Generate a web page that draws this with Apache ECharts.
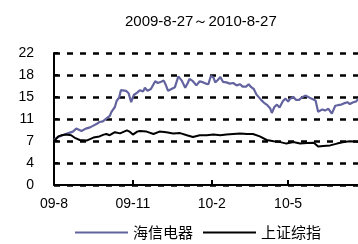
<!DOCTYPE html>
<html>
<head>
<meta charset="utf-8">
<script src="https://cdn.jsdelivr.net/npm/echarts@6/dist/echarts.min.js"></script>
<style>
html,body{margin:0;padding:0;overflow:hidden;background:#fff;width:358px;height:244px;}
#c{width:367px;height:244px;}
</style>
</head>
<body>
<div id="c"></div>
<script>
// x values are days since 2009-08-27 (axis runs to 2010-08-27 = day 365)
const totalDays = 365;
const seriesNames = ['海信电器', '上证综指'];
const titleText = '2009-8-27～2010-8-27';
const tickDays = [0, 92, 184, 273];
const tickLabels = ['09-8', '09-11', '10-2', '10-5'];
const yTicks = [0, 4, 7, 11, 15, 18, 22];

const hxDay = [0,5,10,16,22,26,32,37,42,46,50,53,57,62,65,67,71,73,76,78,80,84,87,90,93,97,100,104,106,109,113,118,121,125,128,130,133,137,141,145,149,153,156,158,162,166,170,174,177,180,183,186,188,191,194,197,201,205,209,213,217,220,224,227,230,233,236,239,242,245,248,252,254,257,260,263,265,267,270,273,275,279,282,286,289,293,296,300,305,308,313,316,320,324,328,331,335,338,342,345,349,352,355,359,364];
const hxVal = [7.5,8.0,8.3,8.6,8.9,9.4,9.0,9.4,9.6,9.9,10.2,10.5,10.6,11.2,11.5,12.2,13.0,14.0,14.6,15.8,15.6,15.7,15.3,13.8,15.0,15.4,15.8,15.6,16.2,15.7,16.0,17.3,17.0,17.2,17.4,16.8,15.7,16.0,16.3,18.1,17.4,16.2,17.0,17.7,17.3,16.6,17.3,17.1,16.9,16.8,18.2,17.9,17.1,17.5,18.0,17.2,17.1,16.9,17.0,16.6,16.8,16.4,16.4,16.8,16.3,16.0,15.1,14.6,14.1,13.7,13.4,12.8,12.0,13.0,13.4,12.9,13.0,14.0,14.4,13.9,14.3,14.7,14.2,14.2,14.6,14.9,14.7,14.4,14.1,12.2,12.6,12.4,12.7,11.9,13.2,13.3,13.4,13.6,13.8,13.5,13.8,13.9,14.4,14.3,14.5];

const szDay = [0,5,9,14,20,25,30,38,46,53,58,61,65,71,77,85,88,92,97,100,108,116,123,131,139,147,155,162,170,178,186,194,201,209,217,225,232,240,248,256,264,271,279,287,295,303,308,314,322,330,338,345,355,364];
const szVal = [7.3,8.1,8.3,8.4,8.3,7.8,7.5,7.4,7.9,8.1,8.4,8.5,8.3,8.8,8.6,9.1,8.9,8.4,8.9,9.0,8.9,8.5,8.9,8.8,8.6,8.65,8.3,8.0,8.3,8.3,8.4,8.3,8.4,8.5,8.6,8.5,8.5,8.1,7.5,7.3,7.15,6.9,7.15,6.9,7.0,7.05,6.4,6.5,6.6,6.9,7.15,7.3,7.2,7.2];

const toPairs = (days, vals) => days.map((d, i) => [d, vals[i]]);

const chart = echarts.init(document.getElementById('c'), null, {renderer: 'canvas'});
chart.setOption({
  animation: false,
  title: {
    text: titleText,
    left: 120, top: 9,
    textStyle: {fontFamily: 'Liberation Sans, Arial', fontSize: 15, fontWeight: 'normal', color: '#000'}
  },
  legend: {
    left: 70, top: 220,
    itemWidth: 53, itemHeight: 14, itemGap: 10,
    icon: 'path://M0,6 L53,6 L53,8 L0,8 Z',
    textStyle: {fontFamily: 'Noto Sans CJK SC', fontSize: 15, color: '#000'},
    data: seriesNames
  },
  grid: {left: 54, right: 0, top: 53, bottom: 59},
  xAxis: {
    type: 'value', min: 0, max: totalDays,
    axisLine: {lineStyle: {color: '#000', width: 2}},
    axisTick: {show: true, inside: true, length: 5, lineStyle: {color: '#000', width: 2}, customValues: tickDays},
    axisLabel: {
      customValues: tickDays, margin: 12, color: '#000', fontSize: 14,
      fontFamily: 'Liberation Sans, Arial',
      formatter: v => tickLabels[tickDays.indexOf(v)] || ''
    },
    splitLine: {show: false}
  },
  yAxis: {
    type: 'value', min: 0, max: 22, interval: 22 / 6,
    axisLine: {show: true, lineStyle: {color: '#000', width: 2}},
    axisTick: {show: true, inside: true, length: 4, lineStyle: {color: '#000', width: 2}},
    axisLabel: {
      margin: 20, color: '#000', fontSize: 14, fontFamily: 'Liberation Sans, Arial',
      formatter: (v) => { const i = Math.round(v / (22 / 6)); return String(yTicks[i]); }
    },
    splitLine: {show: true, lineStyle: {color: '#000', width: 2.5, type: [6, 7]}}
  },
  series: [
    {name: seriesNames[0], type: 'line', data: toPairs(hxDay, hxVal), showSymbol: false, symbol: 'none',
     lineStyle: {color: '#63639f', width: 2.2}, itemStyle: {color: '#63639f'}, z: 3},
    {name: seriesNames[1], type: 'line', data: toPairs(szDay, szVal), showSymbol: false, symbol: 'none',
     lineStyle: {color: '#000', width: 2}, itemStyle: {color: '#000'}, z: 4}
  ]
});
</script>
</body>
</html>
